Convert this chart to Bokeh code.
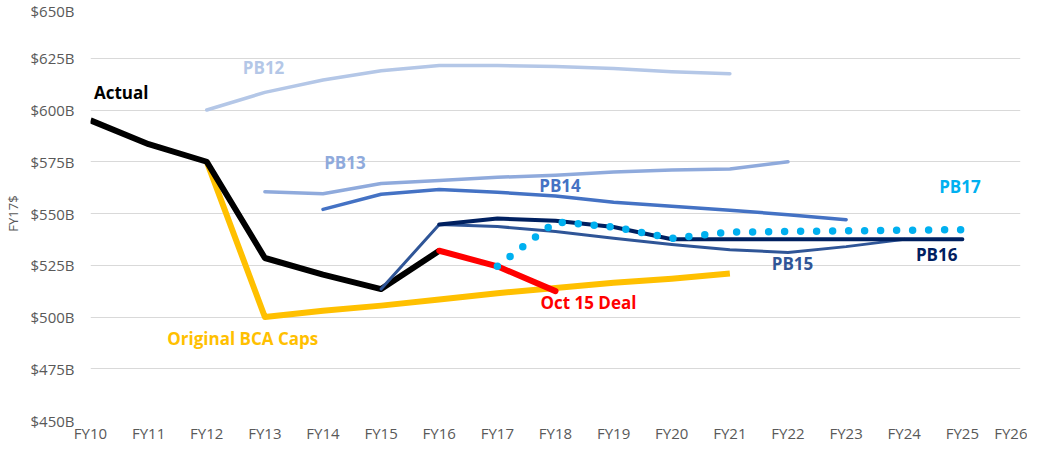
from bokeh.plotting import figure
from bokeh.models import Range1d, FixedTicker, PrintfTickFormatter, ColumnDataSource
from bokeh.core.properties import value
from bokeh.embed import file_html
from bokeh.resources import INLINE

categories = ["FY10", "FY11", "FY12", "FY13", "FY14", "FY15", "FY16", "FY17", "FY18",
              "FY19", "FY20", "FY21", "FY22", "FY23", "FY24", "FY25", "FY26"]
y_ticks = [450, 475, 500, 525, 550, 575, 600, 625, 650]

actual_start = "FY10"
actual = [595, 583.5, 575, 528.5, 520.5, 513.5, 532]
bca_start = "FY12"
bca = [575, 500, 503, 505.5, 508.5, 511.5, 514, 516.5, 518.5, 521]
oct15_start = "FY16"
oct15 = [532, 524.5, 512.5]
pb12_start = "FY12"
pb12 = [600, 608.5, 614.5, 619, 621.5, 621.5, 621, 620, 618.5, 617.5]
pb13_start = "FY13"
pb13 = [560.5, 559.5, 564.5, 566, 567.5, 568.5, 570, 571, 571.5, 575]
pb14_start = "FY14"
pb14 = [552, 559.3, 561.6, 560.3, 558.4, 555.4, 553.5, 551.6, 549.4, 547]
pb15_start = "FY15"
pb15 = [513.5, 544.7, 543.7, 541.3, 538, 535, 532.5, 531.2, 534, 537.5]
pb16_start = "FY16"
pb16 = [544.7, 547.6, 546.5, 543.5, 537.6, 537.6, 537.6, 537.6, 537.6, 537.6]
pb17_start = "FY17"
pb17 = [524.5, 546, 543.5, 538, 541, 541.3, 541.6, 541.9, 542.2]

label_text = ["Actual", "PB12", "PB13", "PB14", "PB15", "PB16", "PB17", "Oct 15 Deal", "Original BCA Caps"]
label_x = [0.06, 2.62, 4.02, 7.72, 11.72, 14.2, 14.6, 7.74, 1.32]
label_y = [608.4, 620.5, 574.5, 563.3, 526.0, 530.4, 562.9, 507.2, 489.5]
label_color = ["#000000", "#B4C7E7", "#8FAADC", "#4472C4", "#2F5597", "#002060", "#00B0F0", "#FF0000", "#FFC000"]

def xs(start, vals):
    i0 = categories.index(start)
    return list(range(i0, i0 + len(vals)))

p = figure(width=1027, height=445, output_backend="svg", toolbar_location=None,
           x_range=Range1d(0, len(categories) - 1), y_range=Range1d(450, 650),
           min_border_left=85, min_border_right=7, min_border_top=6, min_border_bottom=20)
p.outline_line_color = None
p.background_fill_color = "white"
p.border_fill_color = "white"

p.xgrid.grid_line_color = None
p.ygrid.grid_line_color = "#D9D9D9"
p.ygrid.grid_line_width = 1

p.yaxis.ticker = FixedTicker(ticks=y_ticks)
p.yaxis.formatter = PrintfTickFormatter(format="$%dB")
p.xaxis.ticker = FixedTicker(ticks=list(range(len(categories))))
p.xaxis.major_label_overrides = {i: c for i, c in enumerate(categories)}
for ax in (p.xaxis[0], p.yaxis[0]):
    ax.axis_line_color = None
    ax.major_tick_line_color = None
    ax.minor_tick_line_color = None
    ax.major_tick_out = 0
    ax.major_tick_in = 0
    ax.minor_tick_out = 0
    ax.minor_tick_in = 0
    ax.major_label_text_color = "#595959"
    ax.major_label_text_font = "Open Sans"
    ax.major_label_text_font_size = "15px"
p.xaxis.major_label_text_line_height = 1.0
p.yaxis.major_label_standoff = 16
p.xaxis.major_label_standoff = 2
p.yaxis.axis_label = "FY17$"
p.yaxis.axis_label_text_color = "#595959"
p.yaxis.axis_label_text_font = "Open Sans"
p.yaxis.axis_label_text_font_size = "13px"
p.yaxis.axis_label_text_font_style = "normal"
p.yaxis.axis_label_standoff = 6

p.line(xs(bca_start, bca), bca, line_color="#FFC000", line_width=6, line_join="round")
p.line(xs(actual_start, actual), actual, line_color="#000000", line_width=6, line_join="round")
p.line(xs(oct15_start, oct15), oct15, line_color="#FF0000", line_width=6, line_join="round", line_cap="round")
p.line(xs(pb12_start, pb12), pb12, line_color="#B4C7E7", line_width=3.5, line_join="round", line_cap="round")
p.line(xs(pb13_start, pb13), pb13, line_color="#8FAADC", line_width=3.5, line_join="round", line_cap="round")
p.line(xs(pb14_start, pb14), pb14, line_color="#4472C4", line_width=3.5, line_join="round", line_cap="round")
p.line(xs(pb15_start, pb15), pb15, line_color="#2F5597", line_width=3, line_join="round", line_cap="round")
p.line(xs(pb16_start, pb16), pb16, line_color="#002060", line_width=4, line_join="round", line_cap="round")
p.line(xs(pb17_start, pb17), pb17, line_color="#00B0F0", line_width=7.5, line_join="round",
       line_cap="round", line_dash="0 16")

src = ColumnDataSource(dict(x=label_x, y=label_y, t=label_text, c=label_color))
p.text(x="x", y="y", text="t", text_color="c", source=src, text_font=value("Open Sans"),
       text_font_style="bold", text_font_size="17px", text_align="left", text_baseline="middle")

open("out.html", "w").write(file_html(p, INLINE))
